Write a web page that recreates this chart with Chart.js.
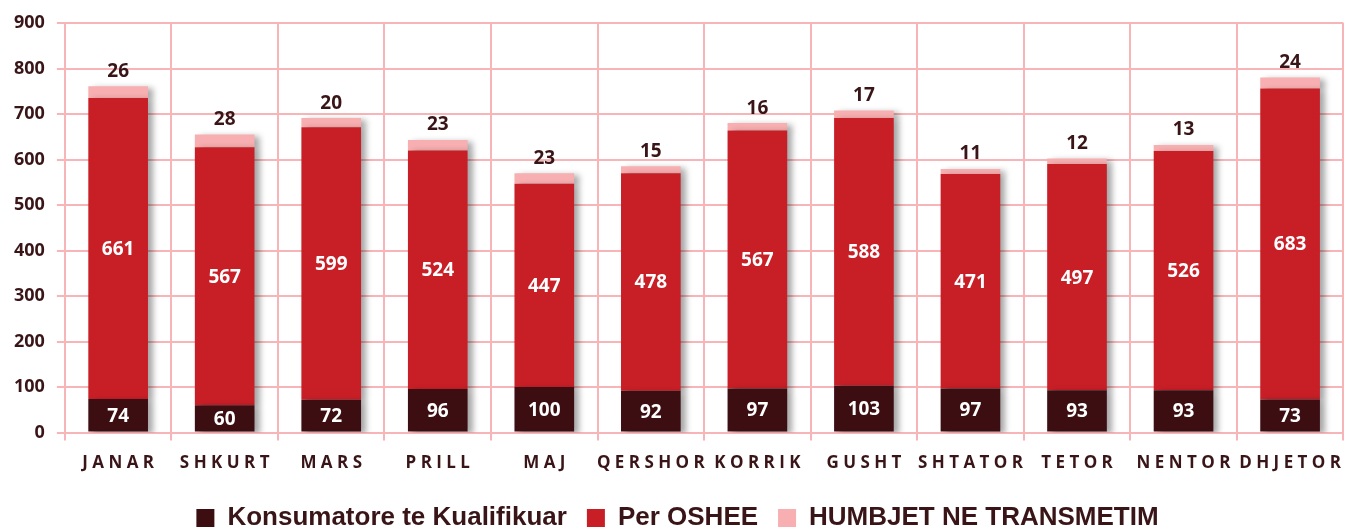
<!DOCTYPE html>
<html>
<head>
<meta charset="utf-8">
<script src="https://cdn.jsdelivr.net/npm/chart.js@4.4.0/dist/chart.umd.min.js"></script>
<style>
  html, body { margin: 0; padding: 0; background: #fff; }
  #wrap { width: 1353px; height: 527px; }
</style>
</head>
<body>
<div id="wrap"><canvas id="grafik"></canvas></div>
<script>
// Te dhenat
const muajt = ['JANAR', 'SHKURT', 'MARS', 'PRILL', 'MAJ', 'QERSHOR', 'KORRIK', 'GUSHT', 'SHTATOR', 'TETOR', 'NENTOR', 'DHJETOR'];
const konsumatore = [74, 60, 72, 96, 100, 92, 97, 103, 97, 93, 93, 73];
const perOshee = [661, 567, 599, 524, 447, 478, 567, 588, 471, 497, 526, 683];
const humbjet = [26, 28, 20, 23, 23, 15, 16, 17, 11, 12, 13, 24];
const yTicks = [0, 100, 200, 300, 400, 500, 600, 700, 800, 900];

const ngjyraTekst = '#3a1518';
const ngjyraGrid = '#f7b5b8';

// hije pas shtyllave
const hijePlugin = {
  id: 'hije',
  beforeDatasetsDraw(chart) {
    const ctx = chart.ctx;
    ctx.save();
    ctx.shadowColor = 'rgba(0,0,0,0.35)';
    ctx.shadowBlur = 6;
    ctx.shadowOffsetX = 5;
    ctx.shadowOffsetY = 2;
  },
  afterDatasetsDraw(chart) {
    chart.ctx.restore();
  }
};

// Etiketat e vlerave
const etiketaPlugin = {
  id: 'etiketa',
  afterDatasetsDraw(chart) {
    const ctx = chart.ctx;
    ctx.save();
    ctx.textAlign = 'center';
    ctx.textBaseline = 'middle';
    ctx.font = "bold 19px 'Open Sans', sans-serif";
    chart.data.datasets.forEach((ds, i) => {
      const meta = chart.getDatasetMeta(i);
      meta.data.forEach((bar, j) => {
        const v = ds.data[j];
        if (i < 2) {
          ctx.fillStyle = '#ffffff';
          ctx.fillText(v, bar.x, (bar.y + bar.base) / 2 + 1);
        } else {
          ctx.fillStyle = ngjyraTekst;
          ctx.fillText(v, bar.x, bar.y - 15);
        }
      });
    });
    ctx.restore();
  }
};

const ctx = document.getElementById('grafik').getContext('2d');
new Chart(ctx, {
  type: 'bar',
  data: {
    labels: muajt,
    datasets: [
      { label: 'Konsumatore te Kualifikuar', data: konsumatore, backgroundColor: '#3c0e12' },
      { label: 'Per OSHEE', data: perOshee, backgroundColor: '#c81f27' },
      { label: 'HUMBJET NE TRANSMETIM', data: humbjet, backgroundColor: '#f7afb1' }
    ]
  },
  options: {
    responsive: true,
    maintainAspectRatio: false,
    animation: false,
    layout: { padding: { top: 23, right: 0, left: 2, bottom: -14 } },
    datasets: { bar: { categoryPercentage: 1, barPercentage: 0.56 } },
    scales: {
      x: {
        stacked: true,
        border: { display: false },
        grid: { color: ngjyraGrid, lineWidth: 2, offset: true, tickLength: 8 },
        ticks: {
          color: ngjyraTekst,
          font: { family: "'Open Sans', sans-serif", size: 17, weight: 'bold' },
          padding: 12,
          maxRotation: 0,
          autoSkip: false,
          callback: function(v) { return muajt[v].split('').join(' '); }
        }
      },
      y: {
        stacked: true,
        min: 0,
        max: 900,
        border: { display: false },
        afterBuildTicks: axis => { axis.ticks = yTicks.map(v => ({ value: v })); },
        grid: { color: ngjyraGrid, lineWidth: 2, tickLength: 8 },
        ticks: {
          color: ngjyraTekst,
          font: { family: "'Open Sans', sans-serif", size: 18, weight: 'bold' },
          padding: 12
        }
      }
    },
    plugins: {
      legend: {
        position: 'bottom',
        labels: {
          color: ngjyraTekst,
          boxWidth: 18,
          boxHeight: 18,
          padding: 20,
          font: { family: "'Liberation Sans', sans-serif", size: 26, weight: 'bold' }
        }
      },
      tooltip: { enabled: false }
    }
  },
  plugins: [hijePlugin, etiketaPlugin]
});
</script>
</body>
</html>
